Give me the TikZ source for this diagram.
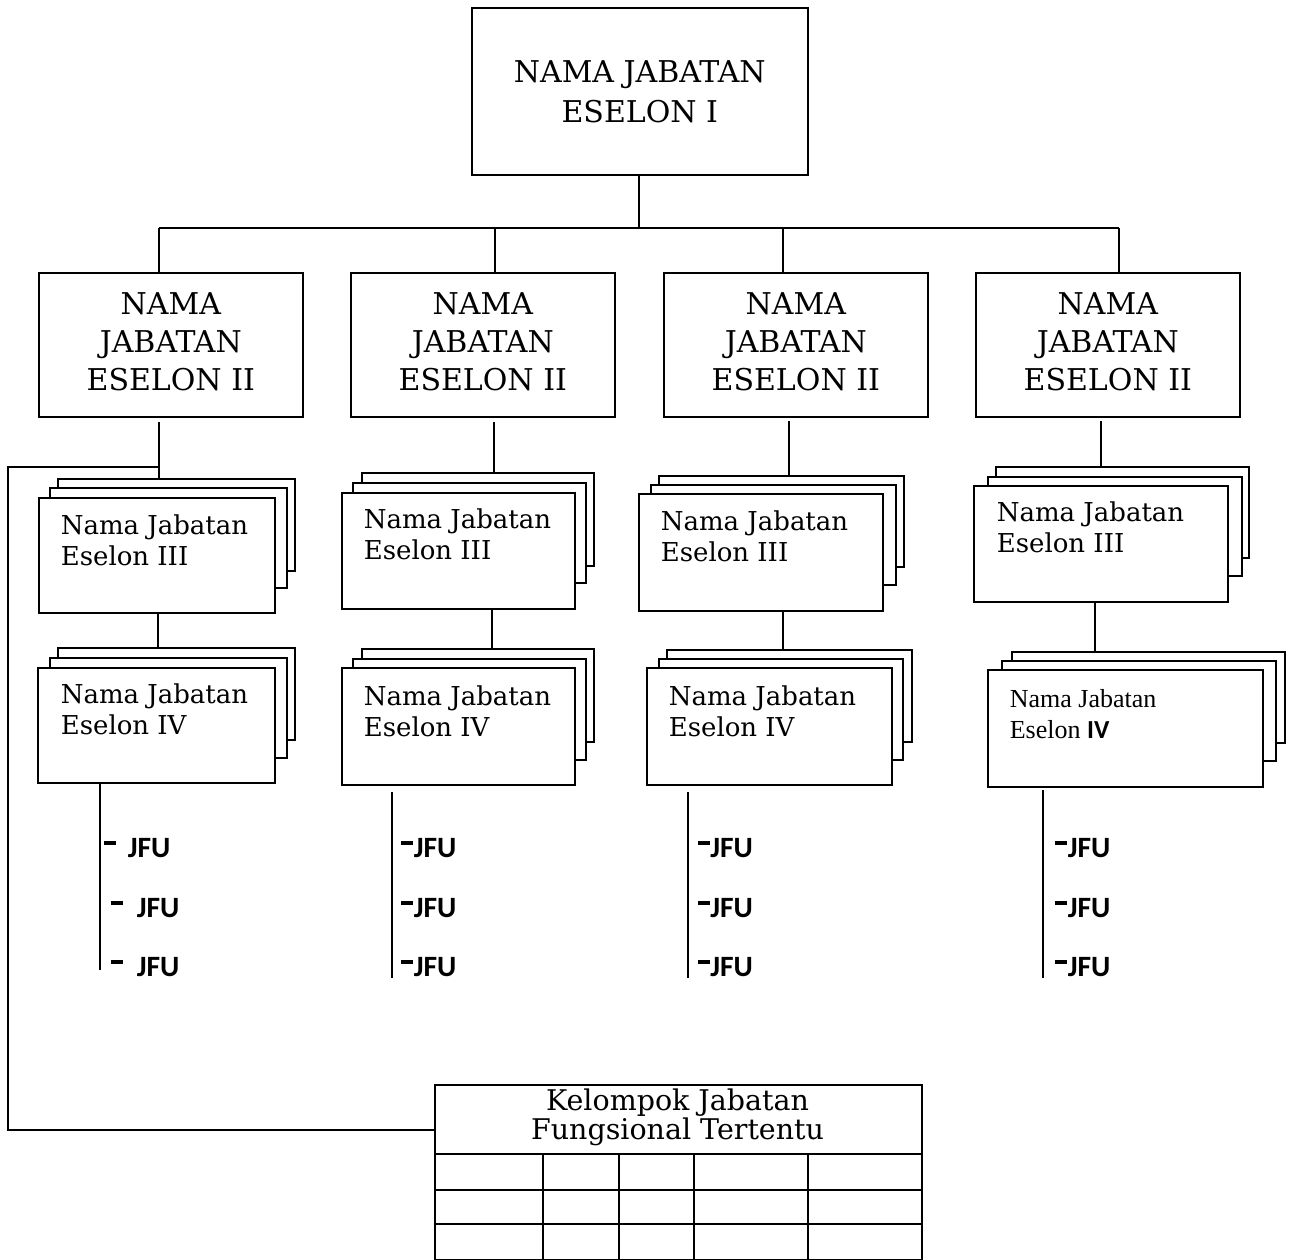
\documentclass[tikz,border=0pt]{standalone}
\usepackage{fontspec}
\setmainfont{DejaVu Serif}
\newfontfamily\timesf{Liberation Serif}
\newfontfamily\calib{Carlito}
\newcommand\sheet[5]{\node[sheet, anchor=north west, minimum width={#4pt-#2pt}, minimum height={#5pt-#3pt}] (#1) at (#2,#3) {};}
\newcommand\jfutext[1]{\rule[12pt]{12pt}{4.5pt}\hspace{#1pt}JFU}
\begin{document}
\begin{tikzpicture}[x=1pt,y=-1pt,
  line width=1.6pt,
  box/.style={draw, fill=white, line width=1.6pt, inner sep=0pt, align=center},
  sheet/.style={draw, fill=white, line width=1.6pt, inner sep=0pt, outer sep=0pt},
  capsfont/.style={font=\fontsize{30}{38}\selectfont, text depth=6pt},
  lbl/.style={anchor=north west, align=left, inner sep=0pt, font=\fontsize{26}{31}\selectfont},
  jfu/.style={anchor=base west, inner sep=0pt, font=\calib\bfseries\fontsize{29.5}{29.5}\selectfont},
  conn/.style={line width=1.6pt}]
\useasboundingbox (0,0) rectangle (1290,1260);

% top
\node[box, anchor=north west, minimum width=336pt, minimum height=167pt, font=\fontsize{30}{40}\selectfont] (e1) at (471,7) {NAMA JABATAN\\ESELON I};

% eselon II
\node[box, capsfont, anchor=north west, minimum width=264pt, minimum height=144pt] (e2a) at (38,272) {NAMA\\JABATAN\\ESELON II};
\node[box, capsfont, anchor=north west, minimum width=264pt, minimum height=144pt] (e2b) at (350,272) {NAMA\\JABATAN\\ESELON II};
\node[box, capsfont, anchor=north west, minimum width=264pt, minimum height=144pt] (e2c) at (663,272) {NAMA\\JABATAN\\ESELON II};
\node[box, capsfont, anchor=north west, minimum width=264pt, minimum height=144pt] (e2d) at (975,272) {NAMA\\JABATAN\\ESELON II};

% bus
\coordinate (bus) at (639,228);
\coordinate (b1) at (159,228);
\coordinate (b2) at (495,228);
\coordinate (b3) at (783,228);
\coordinate (b4) at (1119,228);
\draw[conn] (bus |- e1.south) -- (bus);
\draw[conn] (b1) -- (b4);
\draw[conn] (b1) -- (b1 |- e2a.north);
\draw[conn] (b2) -- (b2 |- e2b.north);
\draw[conn] (b3) -- (b3 |- e2c.north);
\draw[conn] (b4) -- (b4 |- e2d.north);

% eselon III stacks
\sheet{e3a3}{58}{479}{295}{571}
\sheet{e3a2}{50}{488}{287}{588}
\sheet{e3a}{39}{498}{275}{613}
\sheet{e3b3}{362}{473}{594}{566}
\sheet{e3b2}{353}{483}{586}{583}
\sheet{e3b}{342}{493}{575}{609}
\sheet{e3c3}{659}{476}{904}{567}
\sheet{e3c2}{651}{485}{896}{585}
\sheet{e3c}{639}{494}{883}{611}
\sheet{e3d3}{996}{467}{1249}{558}
\sheet{e3d2}{988}{477}{1242}{576}
\sheet{e3d}{974}{486}{1228}{602}

\node[lbl] (t3a) at (60,514) {Nama Jabatan\\Eselon III};
\node[lbl] (t3b) at (363,508) {Nama Jabatan\\Eselon III};
\node[lbl] (t3c) at (660,510) {Nama Jabatan\\Eselon III};
\node[lbl] (t3d) at (996,501) {Nama Jabatan\\Eselon III};

% eselon IV stacks
\sheet{e4a3}{58}{648}{295}{740}
\sheet{e4a2}{50}{658}{287}{758}
\sheet{e4a}{38}{668}{275}{783}
\sheet{e4b3}{362}{649}{594}{742}
\sheet{e4b2}{353}{659}{586}{760}
\sheet{e4b}{342}{668}{575}{785}
\sheet{e4c3}{667}{650}{912}{742}
\sheet{e4c2}{659}{659}{903}{760}
\sheet{e4c}{647}{668}{892}{785}
\sheet{e4d3}{1012}{652}{1285}{743}
\sheet{e4d2}{1002}{661}{1276}{761}
\sheet{e4d}{988}{670}{1263}{787}

\node[lbl] (t4a) at (60,683) {Nama Jabatan\\Eselon IV};
\node[lbl] (t4b) at (363,685) {Nama Jabatan\\Eselon IV};
\node[lbl] (t4c) at (668,685) {Nama Jabatan\\Eselon IV};
\node[anchor=north west, align=left, inner sep=0pt, font=\timesf\fontsize{26}{31}\selectfont] (t4d) at (1009,688.5) {Nama Jabatan\\Eselon {\calib\bfseries IV}};

% eselon II -> III
\coordinate (d1) at (159,422);
\coordinate (d2) at (494,422);
\coordinate (d3) at (789,421);
\coordinate (d4) at (1101,421);
\draw[conn] (d1) -- (d1 |- e3a3.north);
\draw[conn] (d2) -- (d2 |- e3b3.north);
\draw[conn] (d3) -- (d3 |- e3c3.north);
\draw[conn] (d4) -- (d4 |- e3d3.north);

% eselon III -> IV
\coordinate (g1) at (158,613);
\coordinate (g2) at (492,609);
\coordinate (g3) at (783,611);
\coordinate (g4) at (1095,602);
\draw[conn] (g1) -- (g1 |- e4a3.north);
\draw[conn] (g2) -- (g2 |- e4b3.north);
\draw[conn] (g3) -- (g3 |- e4c3.north);
\draw[conn] (g4) -- (g4 |- e4d3.north);

% JFU lines
\coordinate (f1) at (100,970);
\coordinate (h2) at (392,792);
\coordinate (f2) at (392,978);
\coordinate (h3) at (688,792);
\coordinate (f3) at (688,978);
\coordinate (h4) at (1043,790);
\coordinate (f4) at (1043,978);
\draw[conn] (f1 |- e4a.south) -- (f1);
\draw[conn] (h2) -- (f2);
\draw[conn] (h3) -- (f3);
\draw[conn] (h4) -- (f4);

\node[jfu] (ja1) at (103,857) {\jfutext{12}};
\node[jfu] (ja2) at (110,917) {\jfutext{14}};
\node[jfu] (ja3) at (110,976) {\jfutext{14}};
\node[jfu] (jb1) at (400,857) {\jfutext{1}};
\node[jfu] (jb2) at (400,917) {\jfutext{1}};
\node[jfu] (jb3) at (400,976) {\jfutext{1}};
\node[jfu] (jc1) at (697,857) {\jfutext{0.5}};
\node[jfu] (jc2) at (697,917) {\jfutext{0.5}};
\node[jfu] (jc3) at (697,976) {\jfutext{0.5}};
\node[jfu] (jd1) at (1054,857) {\jfutext{1}};
\node[jfu] (jd2) at (1054,917) {\jfutext{1}};
\node[jfu] (jd3) at (1054,976) {\jfutext{1}};

% table
\node[draw, line width=1.6pt, inner sep=0pt, anchor=north west, minimum width=487pt, minimum height=175pt] (tbl) at (434,1084) {};
\node[anchor=north, inner sep=0pt, align=center, font=\fontsize{28.5}{28.5}\selectfont] (tblh) at (677.5,1088.5) {Kelompok Jabatan\\Fungsional Tertentu};
\coordinate (r1) at (434,1154);
\coordinate (r2) at (434,1190);
\coordinate (r3) at (434,1224);
\draw[conn] (r1) -- (r1 -| tbl.east);
\draw[conn] (r2) -- (r2 -| tbl.east);
\draw[conn] (r3) -- (r3 -| tbl.east);
\coordinate (c1) at (543,1154);
\coordinate (c2) at (619,1154);
\coordinate (c3) at (694,1154);
\coordinate (c4) at (808,1154);
\draw[conn] (c1) -- (c1 |- tbl.south);
\draw[conn] (c2) -- (c2 |- tbl.south);
\draw[conn] (c3) -- (c3 |- tbl.south);
\draw[conn] (c4) -- (c4 |- tbl.south);

% left connector to table
\coordinate (j1) at (159,467);
\coordinate (k1) at (8,467);
\coordinate (k2) at (8,1130);
\draw[conn] (j1) -- (k1) -- (k2) -- (k2 -| tbl.west);
\end{tikzpicture}
\end{document}
